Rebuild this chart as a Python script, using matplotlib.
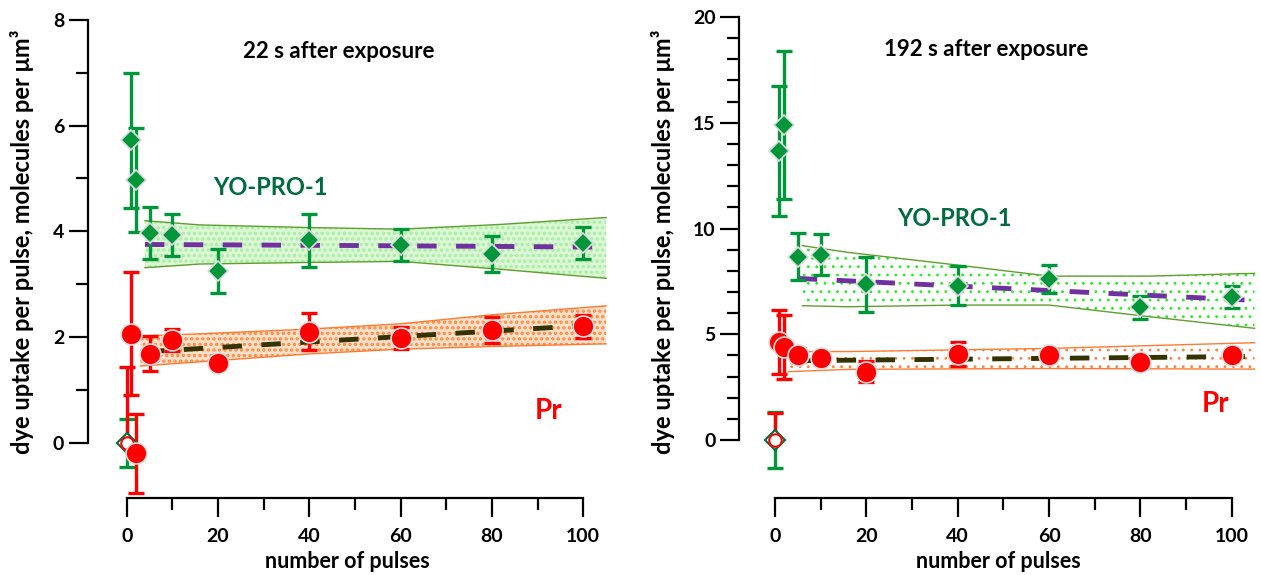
import matplotlib
matplotlib.use("Agg")
import matplotlib.pyplot as plt
from matplotlib.ticker import MultipleLocator, FixedLocator

plt.rcParams['font.family'] = ['Lato', 'DejaVu Sans']
plt.rcParams['font.weight'] = 'bold'

# pulse numbers
pulses = [1, 2, 5, 10, 20, 40, 60, 80, 100]

# 22 s after exposure
yo22 = [5.72, 4.97, 3.96, 3.93, 3.25, 3.83, 3.74, 3.57, 3.78]
yo22_err = [1.28, 0.98, 0.49, 0.39, 0.41, 0.50, 0.30, 0.34, 0.30]
pr22 = [2.06, -0.20, 1.68, 1.94, 1.51, 2.10, 1.98, 2.13, 2.20]
pr22_err = [1.16, 0.75, 0.33, 0.21, 0.12, 0.35, 0.20, 0.25, 0.22]
yo22_ctrl_err = 0.45
pr22_ctrl_err = 1.44

yo22_band_x = [4, 16, 40, 60, 82, 105]
yo22_band_hi = [4.20, 4.12, 4.07, 4.04, 4.13, 4.26]
yo22_band_lo = [3.31, 3.38, 3.41, 3.43, 3.28, 3.11]
yo22_fit_x = [4, 50, 105]
yo22_fit = [3.75, 3.73, 3.70]
pr22_band_x = [3, 16, 40, 60, 80, 105]
pr22_band_hi = [2.02, 2.06, 2.15, 2.25, 2.42, 2.59]
pr22_band_lo = [1.45, 1.53, 1.68, 1.77, 1.82, 1.87]
pr22_fit_x = [4, 105]
pr22_fit = [1.72, 2.24]

# 192 s after exposure
yo192 = [13.66, 14.88, 8.67, 8.75, 7.36, 7.30, 7.61, 6.27, 6.75]
yo192_err = [3.07, 3.50, 1.10, 0.97, 1.30, 0.92, 0.66, 0.55, 0.52]
pr192 = [4.63, 4.40, 4.02, 3.86, 3.23, 4.07, 4.02, 3.70, 4.02]
pr192_err = [1.50, 1.50, 0.35, 0.25, 0.50, 0.58, 0.30, 0.25, 0.30]
yo192_ctrl_err = 1.34
pr192_ctrl_err = 1.29

yo192_band_x = [6, 16, 40, 60, 82, 105]
yo192_band_hi = [9.19, 8.87, 8.27, 7.75, 7.75, 7.88]
yo192_band_lo = [6.35, 6.30, 6.38, 6.38, 5.83, 5.28]
yo192_fit_x = [5, 105]
yo192_fit = [7.64, 6.60]
pr192_band_x = [3, 16, 60, 105]
pr192_band_hi = [4.18, 4.18, 4.33, 4.60]
pr192_band_lo = [3.23, 3.34, 3.38, 3.35]
pr192_fit_x = [5, 105]
pr192_fit = [3.75, 3.95]

green = '#009639'
red = '#ff0000'
dkgreen = '#006b3c'

fig = plt.figure(figsize=(12.61, 5.75), dpi=100)
ax1 = fig.add_axes([87.7 / 1261, 1 - 497.7 / 575, (607 - 87.7) / 1261, (497.7 - 5) / 575])
ax2 = fig.add_axes([739.3 / 1261, 1 - 497.7 / 575, (1258 - 739.3) / 1261, (497.7 - 5) / 575])


def draw(ax, yo, yo_err, pr, pr_err, yo_c, pr_c,
         gb, orb, gfit, ofit, ylim, ystep, ytop, title, tpos, ypos, prpos,
         gface, gdots, gh, oface, odots, oh, hlw):
    with plt.rc_context({'hatch.linewidth': hlw}):
        bx, bhi, blo = gb
        ax.fill_between(bx, blo, bhi, facecolor=gface, edgecolor=gdots, hatch=gh, linewidth=0, zorder=1)
        ax.plot(bx, bhi, color='#5f9e2e', lw=1.0, zorder=2)
        ax.plot(bx, blo, color='#5f9e2e', lw=1.0, zorder=2)
        bx, bhi, blo = orb
        ax.fill_between(bx, blo, bhi, facecolor=oface, edgecolor=odots, hatch=oh, linewidth=0, zorder=1)
        ax.plot(bx, bhi, color='#ff7a30', lw=1.0, zorder=2)
        ax.plot(bx, blo, color='#ff7a30', lw=1.0, zorder=2)
    ax.plot(gfit[0], gfit[1], color='#7030a0', lw=3.5, ls=(0, (4, 4)), zorder=3)
    ax.plot(ofit[0], ofit[1], color='#333300', lw=3.5, ls=(0, (4, 4)), zorder=3)

    ebk = dict(fmt='none', elinewidth=2.4, capsize=6, capthick=2.4, zorder=4)
    # controls (0 pulses)
    ax.errorbar([0], [0], yerr=[yo_c], ecolor=green, **ebk)
    ax.errorbar([0], [0], yerr=[[0], [pr_c]], ecolor=red, **ebk)
    ax.plot([0], [0], 'D', ms=10, mfc='white', mec=dkgreen, mew=1.5, zorder=5)
    ax.plot([0], [0], 'o', ms=9, mfc='white', mec=red, mew=1.5, zorder=6)

    ax.errorbar(pulses, yo, yerr=yo_err, ecolor=green, **ebk)
    ax.plot(pulses, yo, 'D', ls='none', ms=10.5, mfc=green, mec='#dddddd', mew=1.2, zorder=5)
    ax.errorbar(pulses, pr, yerr=pr_err, ecolor=red, **ebk)
    ax.plot(pulses, pr, 'o', ls='none', ms=15, mfc=red, mec='#dddddd', mew=1.2, zorder=6)

    ax.set_ylim(ylim)
    ax.yaxis.set_major_locator(MultipleLocator(ystep))
    ax.yaxis.set_minor_locator(FixedLocator(list(range(0, ytop + 1))))
    ax.xaxis.set_major_locator(MultipleLocator(20))
    ax.xaxis.set_minor_locator(FixedLocator(list(range(0, 101, 10))))
    for s in ['top', 'right']:
        ax.spines[s].set_visible(False)
    for s in ['left', 'bottom']:
        ax.spines[s].set_linewidth(1.6)
    ax.spines['bottom'].set_bounds(0, 100)
    ax.spines['left'].set_bounds(0, ytop)
    ax.tick_params(which='major', length=14, width=1.6, labelsize=14)
    ax.tick_params(which='minor', length=8.5, width=1.6)
    ax.tick_params(axis='x', which='major', pad=8)
    ax.tick_params(axis='y', which='major', pad=3)
    ax.set_xlabel('number of pulses', fontsize=15.5, fontweight='bold', labelpad=4)
    ax.text(tpos[0], tpos[1], title, fontsize=16, fontweight='bold', ha='center', va='center')
    ax.text(ypos[0], ypos[1], 'YO-PRO-1', fontsize=17, fontweight='bold', color=dkgreen, ha='center', va='center')
    ax.text(prpos[0], prpos[1], 'Pr', fontsize=20, fontweight='bold', color=red, ha='center', va='center')


draw(ax1, yo22, yo22_err, pr22, pr22_err, yo22_ctrl_err, pr22_ctrl_err,
     (yo22_band_x, yo22_band_hi, yo22_band_lo), (pr22_band_x, pr22_band_hi, pr22_band_lo),
     (yo22_fit_x, yo22_fit), (pr22_fit_x, pr22_fit), (-1.04, 8.28), 2, 8,
     '22 s after exposure', (46.5, 7.40), (31.5, 4.83), (92.5, 0.60),
     '#dcf7d4', '#a6eea6', '...', '#ffe0cc', '#ff8a3a', '...', 1.6)
ax1.set_xlim(-8.54, 105.2)

draw(ax2, yo192, yo192_err, pr192, pr192_err, yo192_ctrl_err, pr192_ctrl_err,
     (yo192_band_x, yo192_band_hi, yo192_band_lo), (pr192_band_x, pr192_band_hi, pr192_band_lo),
     (yo192_fit_x, yo192_fit), (pr192_fit_x, pr192_fit), (-2.73, 20.57), 5, 20,
     '192 s after exposure', (46.3, 18.45), (39.3, 10.45), (96.5, 1.70),
     'white', '#22ee22', '..', 'white', '#ff7f40', '..', 0.8)
ax2.set_xlim(-7.8, 105.75)

ylab = 'dye uptake per pulse, molecules per μm³'
fig.text(22 / 1261, 1 - 242 / 575, ylab, rotation=90, fontsize=17, fontweight='bold', ha='center', va='center')
fig.text(663 / 1261, 1 - 242 / 575, ylab, rotation=90, fontsize=17, fontweight='bold', ha='center', va='center')

fig.savefig('out.png', dpi=100)
